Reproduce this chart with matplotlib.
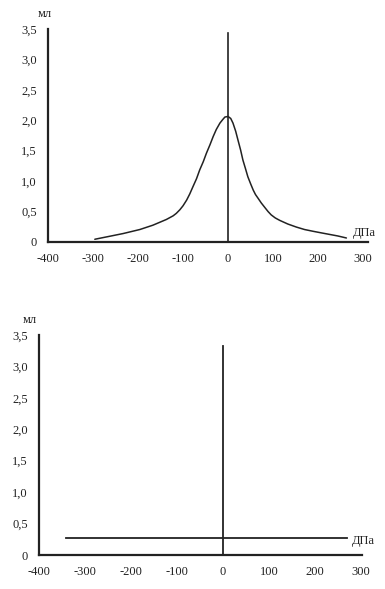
import matplotlib
matplotlib.use("Agg")
import matplotlib.pyplot as plt

# ---- data ----
x_ticks = [-400, -300, -200, -100, 0, 100, 200, 300]
y_ticks = [0, 0.5, 1.0, 1.5, 2.0, 2.5, 3.0, 3.5]
y_tick_labels = ["0", "0,5", "1,0", "1,5", "2,0", "2,5", "3,0", "3,5"]

# top chart: tympanogram curve (pressure daPa, volume ml)
pressure_top = [-296, -263, -233, -196, -167, -137, -122, -115, -107, -100, -92, -85, -78,
                -70, -63, -55, -48, -40, -33, -26, -18, -12, -7, 0,
                6, 11, 17, 22, 28, 33, 39, 44, 50, 56, 61, 67, 74, 82, 89, 96,
                105, 115, 133, 152, 170, 189, 208, 226, 244, 263]
volume_top = [0.045, 0.094, 0.139, 0.205, 0.276, 0.370, 0.43, 0.47, 0.53, 0.595, 0.688, 0.79, 0.908,
              1.04, 1.183, 1.32, 1.459, 1.60, 1.733, 1.85, 1.954, 2.01, 2.053, 2.063,
              2.03, 1.954, 1.82, 1.678, 1.51, 1.348, 1.20, 1.073, 0.96, 0.853, 0.78, 0.716, 0.64, 0.565, 0.50, 0.445,
              0.395, 0.355, 0.295, 0.245, 0.205, 0.176, 0.149, 0.124, 0.099, 0.066]
marker_top = 3.43  # height of vertical line at 0 daPa

# bottom chart: flat tympanogram
pressure_bottom = [-342, 269]
volume_bottom = [0.265, 0.265]
marker_bottom = 3.32

x_unit = "ДПа"
y_unit = "мл"

plt.rcParams['font.family'] = ['Liberation Serif', 'DejaVu Serif']

W, H = 385, 589
fig = plt.figure(figsize=(W / 100, H / 100), dpi=100)
fig.patch.set_facecolor("white")


def style(ax, xlim):
    ax.set_xlim(*xlim)
    ax.set_ylim(0, 3.5)
    for s in ("top", "right"):
        ax.spines[s].set_visible(False)
    for s in ("left", "bottom"):
        ax.spines[s].set_linewidth(1.6)
        ax.spines[s].set_color("#222222")
    ax.set_xticks(x_ticks)
    ax.set_xticklabels([str(v) for v in x_ticks])
    ax.set_yticks(y_ticks)
    ax.set_yticklabels(y_tick_labels)
    ax.tick_params(length=0, pad=8, labelsize=9, colors="#222222")
    ax.patch.set_alpha(0)


# top axes
ax1 = fig.add_axes([48 / W, 1 - 242 / H, (368 - 48) / W, (242 - 29) / H])
style(ax1, (-400, 311))
ax1.plot(pressure_top, volume_top, color="#222222", lw=1.1,
         solid_capstyle="round", solid_joinstyle="round")
ax1.plot([0, 0], [0, marker_top], color="#222222", lw=1.2)
ax1.text(278, 0.15, x_unit, fontsize=9, ha="left", va="center", clip_on=False, color="#222222")
fig.text(45 / W, 1 - 14 / H, y_unit, fontsize=9, ha="center", va="center", color="#222222")

# bottom axes
ax2 = fig.add_axes([39 / W, 1 - 555 / H, (362 - 39) / W, (555 - 335) / H])
style(ax2, (-400, 302))
ax2.plot(pressure_bottom, volume_bottom, color="#222222", lw=1.3)
ax2.plot([0, 0], [0, marker_bottom], color="#222222", lw=1.3)
ax2.text(280, 0.22, x_unit, fontsize=9, ha="left", va="center", clip_on=False, color="#222222")
fig.text(30 / W, 1 - 320 / H, y_unit, fontsize=9, ha="center", va="center", color="#222222")

fig.savefig("out.png", dpi=100, facecolor="white")
